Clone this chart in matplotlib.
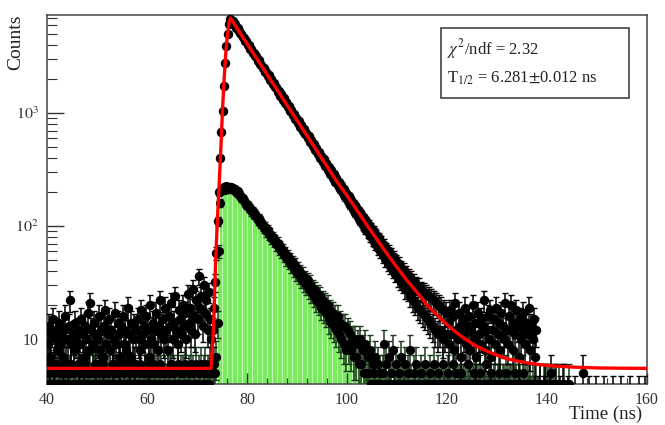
import numpy as np
import matplotlib
matplotlib.use("Agg")
import matplotlib.pyplot as plt
from matplotlib.ticker import LogLocator, NullFormatter, MultipleLocator, FixedLocator, FixedFormatter
from matplotlib.patches import Rectangle

plt.rcParams['font.family'] = ['Liberation Serif', 'DejaVu Serif']
plt.rcParams['mathtext.fontset'] = 'stix'

# bin centres (0.25 ns bins)
time_ns = np.arange(40.125, 160.0, 0.25)

# main spectrum (black points, fitted by the red curve)
main_counts = [
    # 40-73 ns background
    9, 13, 7, 11, 15, 6, 10, 12, 8, 14, 9, 11,
    7, 12, 16, 10, 6, 13, 22, 9, 11, 8, 14, 10,
    12, 6, 9, 15, 11, 7, 13, 10, 17, 8, 21, 12,
    9, 14, 11, 6, 10, 16, 8, 12, 7, 13, 18, 9,
    11, 15, 8, 12, 6, 10, 17, 9, 14, 11, 7, 13,
    16, 9, 12, 8, 19, 11, 7, 14, 10, 13, 6, 12,
    15, 10, 8, 18, 11, 13, 9, 16, 12, 7, 20, 10,
    14, 9, 12, 17, 8, 13, 22, 11, 15, 10, 19, 12,
    8, 16, 13, 21, 10, 14, 24, 12, 9, 18, 15, 11,
    20, 13, 17, 10, 25, 14, 19, 12, 28, 16, 11, 22,
    15, 36, 19, 24, 13, 30, 17, 22, 12, 26, 15, 10,
    # 73-77 ns rise
    12, 19, 32, 58, 110, 200, 400, 680, 1050, 1750, 2800, 3900, 5000, 6100, 6800, 6700,
    # 77-120 ns decay
    6600, 6150, 6120, 5700, 5680, 5300, 5100, 5060, 4680, 4650, 4350, 4320,
    4000, 3990, 3700, 3700, 3420, 3400, 3180, 3190, 2920, 2950, 2700, 2690,
    2490, 2520, 2310, 2330, 2120, 2160, 1970, 1990, 1820, 1850, 1690, 1710,
    1540, 1580, 1430, 1470, 1320, 1360, 1220, 1250, 1130, 1160, 1040, 1075,
    965, 990, 890, 915, 820, 850, 760, 790, 700, 728, 650, 672,
    598, 622, 552, 575, 510, 532, 470, 492, 436, 455, 401, 421,
    372, 390, 342, 360, 316, 336, 292, 311, 268, 288, 248, 266,
    229, 247, 211, 229, 195, 212, 180, 196, 168, 184, 154, 171,
    142, 158, 131, 147, 121, 137, 112, 127, 103, 118, 95, 110,
    88, 103, 81, 96, 75, 90, 70, 84, 64, 78, 60, 73,
    55, 68, 51, 63, 47, 60, 44, 56, 41, 53, 38, 49,
    35, 46, 33, 43, 31, 41, 28, 38, 27, 36, 24, 34,
    22, 32, 21, 30, 19, 29, 18, 27, 17, 26, 16, 25,
    15, 24, 14, 23, 13, 22, 12, 21, 11, 20, 12, 19,
    10, 18, 11, 17,
    # 120-138 ns tail
    14, 9, 18, 11, 16, 8, 21, 12, 10, 17, 13, 7,
    15, 11, 19, 9, 13, 16, 8, 12, 20, 10, 14, 7,
    17, 11, 9, 15, 13, 22, 8, 12, 16, 10, 18, 7,
    12, 15, 9, 19, 11, 14, 8, 17, 13, 10, 21, 12,
    9, 16, 12, 20, 8, 14, 11, 18, 13, 7, 15, 10,
    17, 12, 9, 14, 11, 19, 8, 13, 10, 15, 7, 12,
    # 138-160 ns
    3, 2, 4, 2, 2, 3, 4, 2, 2, 2, 3, 5,
    2, 2, 2, 4, 2, 2, 3, 2, 4, 2, 2, 2,
    3, 2, 2, 2, 2, 2, 3, 2, 2, 2, 2, 2,
    5, 2, 2, 2, 2, 3, 2, 2, 2, 2, 2, 3,
    2, 2, 2, 2, 2, 3, 2, 2, 2, 2, 2, 2,
    3, 2, 2, 2, 2, 2, 2, 3, 2, 2, 2, 2,
    2, 2, 3, 2, 2, 2, 2, 2, 2, 3, 2, 2,
    2, 2, 3, 2,
]

# second spectrum (green filled histogram with black points)
green_counts = [
    # 40-73 ns
    5, 4, 6, 4, 3, 5, 4, 6, 4, 4, 5, 3,
    4, 6, 5, 4, 4, 3, 5, 6, 4, 5, 4, 4,
    6, 4, 3, 5, 4, 4, 6, 5, 4, 3, 5, 4,
    4, 5, 6, 4, 4, 5, 3, 4, 6, 5, 4, 4,
    5, 3, 4, 4, 6, 5, 4, 4, 5, 3, 6, 4,
    4, 5, 4, 6, 3, 4, 5, 4, 4, 6, 5, 4,
    3, 4, 6, 5, 4, 4, 5, 3, 4, 6, 4, 5,
    6, 4, 4, 5, 3, 4, 6, 5, 4, 4, 5, 4,
    4, 3, 5, 6, 4, 5, 4, 4, 6, 3, 4, 5,
    5, 4, 6, 4, 3, 5, 4, 6, 5, 4, 4, 6,
    4, 5, 3, 6, 4, 5, 6, 4, 5, 4, 6, 5,
    # 73-78 ns
    5, 6, 5, 7, 14, 60, 160, 205,
    215, 222, 210, 228, 218, 224, 212, 220, 216, 208, 212, 200,
    # 78-107 ns
    203, 190, 189, 178, 177, 166, 165, 155, 154, 145,
    145, 135, 136, 126, 127,
    122, 114, 118, 106, 108,
    101, 97, 98, 90, 92,
    85, 86, 79, 80, 74,
    75, 69, 71, 64, 66,
    60, 62, 56, 58, 52,
    54, 49, 51, 45, 48,
    42, 45, 39, 42, 37,
    39, 34, 37, 32, 34,
    30, 33, 28, 31, 26,
    28, 24, 27, 22, 25,
    21, 24, 19, 22, 18,
    21, 17, 20, 15, 18,
    14, 17, 13, 16, 12,
    16, 11, 14, 10, 13,
    9, 13, 8, 12, 9,
    11, 8, 10, 7, 10,
    7, 9, 6, 10, 6,
    8, 5, 9, 5, 7,
    5, 8, 4, 6, 5,
    7, 4, 6, 4, 5,
    4,
    # 107-160 ns
    5, 9, 4, 6, 3, 7, 4, 5, 8, 4, 3, 6,
    4, 5, 3, 7, 4, 4, 6, 3, 5, 4, 8, 4,
    3, 5, 4, 6, 4, 3, 4, 5, 4, 3, 6, 4,
    4, 3, 5, 4, 4, 6, 3, 4, 5, 4, 3, 4,
    6, 4, 3, 4, 5, 4, 4, 3, 6, 4, 4, 5,
    4, 3, 4, 5, 4, 4, 3, 4, 6, 4, 3, 4,
    4, 5, 3, 4, 4, 3, 5, 4, 4, 3, 4, 6,
    3, 4, 4, 5, 3, 4, 4, 3, 4, 5, 4, 3,
    4, 4, 3, 5, 4, 3, 4, 4, 3, 4, 5, 4,
    3, 4, 4, 3, 5, 4, 3, 4, 4, 3, 4, 3,
    4, 3, 2, 4, 2, 2, 4, 2, 2, 4, 2, 4,
    4, 2, 4, 2, 4, 2, 4, 2, 2, 4, 2, 2,
    2, 4, 2, 2, 2, 4, 2, 2, 2, 2, 2, 2,
    2, 2, 2, 2, 2, 2, 2, 2, 2, 2, 2, 2,
    2, 2, 2, 2, 2, 2, 2, 2, 2, 2, 2, 2,
    2, 2, 2, 2, 2, 2, 2, 2, 2, 2, 2, 2,
    2, 2, 2, 2, 2, 2, 2, 2, 2, 2, 2, 2,
    2, 2, 2, 2, 2, 2, 2, 2,
]

# fit curve
fit_time = [40, 72.8, 73.3, 73.7, 74.0, 74.4, 74.8, 75.1, 75.4, 75.7, 76.0, 76.4, 76.7,
            78, 80, 82, 84, 86, 88, 90, 92, 94, 96, 98, 100, 102, 104, 106, 108, 110,
            112, 114, 116, 118, 120, 122, 124, 126, 128, 130, 132, 134, 136, 138, 140,
            142, 145, 150, 155, 160]
fit_counts = [5.5, 5.5, 12, 45, 95, 220, 520, 1070, 1900, 3160, 4500, 6300, 6950,
              5650, 4130, 3020, 2210, 1615, 1180, 865, 632, 462, 338, 247, 186, 138,
              102, 76, 57, 43, 33, 26, 20, 16.3, 13.4, 11.3, 9.75, 8.6, 7.8, 7.2, 6.7,
              6.4, 6.15, 5.97, 5.85, 5.75, 5.65, 5.55, 5.52, 5.5]

x_ticks = [40, 60, 80, 100, 120, 140, 160]
y_ticks = [10, 100, 1000]
y_tick_labels = ['10', '$10^{2}$', '$10^{3}$']

main = np.array(main_counts, dtype=float)
green = np.array(green_counts, dtype=float)
assert len(main) == len(time_ns), len(main)
assert len(green) == len(time_ns), len(green)
assert len(fit_time) == len(fit_counts)

fig = plt.figure(figsize=(6.65, 4.25), dpi=100)
ax = fig.add_axes([47/665, 1-384/425, 600/665, 369/425])
ax.set_yscale('log')

# green filled histogram
mask = (time_ns > 74) & (time_ns < 107)
tg = time_ns[mask]
hg = green[mask]
ax.bar(tg, hg - 1.0, bottom=1.0, width=0.25, color='#7aea5e', edgecolor='none',
       linewidth=0, zorder=1)
ax.vlines(tg[::4] - 0.125, 1.0, hg[::4], color='#c8f8ba', lw=0.7, zorder=1.5)

# green-series points
ax.errorbar(time_ns, green, yerr=np.sqrt(green), fmt='o', ms=5.6, mfc='black', mec='black',
            ecolor='#1c3a1c', elinewidth=1.1, capsize=2.2, capthick=1.0, zorder=3)

# main points
ax.errorbar(time_ns, main, yerr=np.sqrt(main), fmt='o', ms=5.8, mfc='black', mec='black',
            ecolor='black', elinewidth=1.1, capsize=2.2, capthick=1.0, zorder=4)

# fit
ax.plot(fit_time, fit_counts, color='#ff0000', lw=2.4, zorder=6)

ax.set_xlim(40, 160)
ax.set_ylim(4.0, 7400)

ax.xaxis.set_major_locator(FixedLocator(x_ticks))
ax.xaxis.set_minor_locator(MultipleLocator(4))
ax.yaxis.set_major_locator(FixedLocator(y_ticks))
ax.yaxis.set_major_formatter(FixedFormatter(y_tick_labels))
ax.yaxis.set_minor_locator(LogLocator(base=10, subs=range(2, 10)))
ax.yaxis.set_minor_formatter(NullFormatter())

ax.tick_params(which='both', direction='in', top=False, right=False, labelsize=11.5,
               colors='#333333', labelcolor='#333333')
ax.tick_params(axis='y', which='major', length=12, width=1.0, pad=6)
ax.tick_params(axis='y', which='minor', length=7, width=0.8)
ax.tick_params(axis='x', which='major', length=8, width=1.0, pad=6)
ax.tick_params(axis='x', which='minor', length=4, width=0.8)

for s in ax.spines.values():
    s.set_color('#444444')
    s.set_linewidth(1.1)

fig.text(16/665, 1-15/425, 'Counts', rotation=90, ha='center', va='top', fontsize=14,
         color='#222222')
fig.text(642/665, 1-414/425, 'Time (ns)', ha='right', va='center', fontsize=13.5,
         color='#222222')

fig.add_artist(Rectangle((441/665, 1-98/425), 188/665, 70/425, transform=fig.transFigure,
                         facecolor='white', edgecolor='#333333', lw=1.1, zorder=10))
fig.text(447/665, 1-49/425, r'$\chi^2$/ndf = 2.32', ha='left', va='center', fontsize=12,
         color='#222222', zorder=11)
fig.text(447/665, 1-78/425, r'T$_{1/2}$ = 6.281$\pm$0.012 ns', ha='left', va='center',
         fontsize=12, color='#222222', zorder=11)

fig.savefig('out.png', dpi=100)
